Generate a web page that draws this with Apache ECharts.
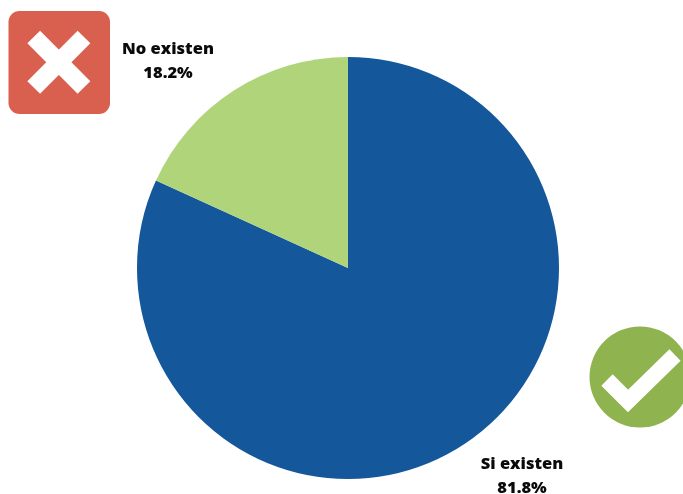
<!DOCTYPE html>
<html>
<head>
<meta charset="utf-8">
<style>html,body{margin:0;padding:0;background:#fff}#c{width:683px;height:494px}</style>
<script src="https://cdn.jsdelivr.net/npm/echarts@6/dist/echarts.min.js"></script>
</head>
<body>
<div id="c"></div>
<script>
const categories = ['Si existen', 'No existen'];
const values = [81.8, 18.2];
const sliceColors = ['#14589b', '#b0d47a'];
const labelAnchors = [[522, 476], [168, 61]];

const chart = echarts.init(document.getElementById('c'), null, {renderer: 'canvas'});
chart.setOption({
  animation: false,
  backgroundColor: '#ffffff',
  series: [{
    type: 'pie',
    center: [348, 268],
    radius: [0, 211],
    startAngle: 90,
    clockwise: true,
    silent: true,
    data: categories.map((n, i) => ({
      name: n,
      value: values[i],
      itemStyle: {color: sliceColors[i]}
    })),
    label: {
      show: true,
      position: 'outside',
      formatter: p => p.name + '\n' + p.value.toFixed(1) + '%',
      fontFamily: '"Open Sans"',
      fontWeight: 800,
      fontSize: 16.5,
      lineHeight: 24,
      color: '#0a0a0a',
      align: 'center',
      verticalAlign: 'middle'
    },
    labelLine: {show: false},
    labelLayout: p => {
      const a = labelAnchors[p.dataIndex];
      return {x: a[0], y: a[1], align: 'center', verticalAlign: 'middle'};
    }
  }],
  graphic: [
    {type: 'rect', shape: {x: 8.5, y: 11, width: 101.5, height: 103, r: 11}, style: {fill: '#d95f4e'}},
    {type: 'line', shape: {x1: 33.7, y1: 37, x2: 84, y2: 87.5}, style: {stroke: '#ffffff', lineWidth: 18}},
    {type: 'line', shape: {x1: 84, y1: 37, x2: 33.7, y2: 87.5}, style: {stroke: '#ffffff', lineWidth: 18}},
    {type: 'circle', shape: {cx: 640, cy: 377, r: 50.5}, style: {fill: '#8fb34f'}},
    {type: 'polyline', shape: {points: [[607, 380], [628, 401], [675, 355]]},
     style: {stroke: '#ffffff', fill: null, lineWidth: 16, lineJoin: 'miter'}}
  ]
});
</script>
</body>
</html>
